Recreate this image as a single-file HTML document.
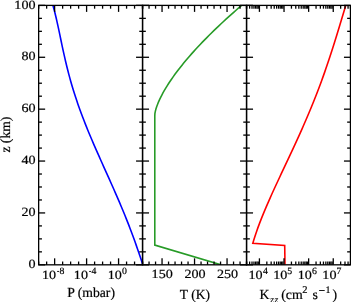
<!DOCTYPE html>
<html><head><meta charset="utf-8"><style>
html,body{margin:0;padding:0;background:#fff;width:351px;height:302px;overflow:hidden}
svg{display:block;will-change:transform}
text{font-family:"Liberation Serif",serif;fill:#000;stroke:#000;stroke-width:0.2px;text-rendering:geometricPrecision}
</style></head><body>
<svg width="351" height="302" viewBox="0 0 351 302">
<defs><clipPath id="c1"><rect x="38.65" y="5.39" width="103.9" height="259.43"/></clipPath><clipPath id="c2"><rect x="142.55" y="5.39" width="104.0" height="259.43"/></clipPath><clipPath id="c3"><rect x="246.55" y="5.39" width="103.89999999999998" height="259.43"/></clipPath></defs>
<rect width="351" height="302" fill="#fff"/>
<path clip-path="url(#c1)" d="M52.94,5.39 L53.84,8.67 L54.70,11.96 L55.51,15.24 L56.29,18.53 L57.04,21.81 L57.77,25.09 L58.48,28.38 L59.17,31.66 L59.86,34.95 L60.55,38.23 L61.23,41.51 L61.92,44.80 L62.62,48.08 L63.33,51.36 L64.06,54.65 L64.80,57.93 L65.56,61.22 L66.34,64.50 L67.14,67.78 L67.97,71.07 L68.83,74.35 L69.72,77.64 L70.63,80.92 L71.57,84.20 L72.54,87.49 L73.54,90.77 L74.58,94.06 L75.64,97.34 L76.73,100.62 L77.85,103.91 L79.01,107.19 L80.19,110.48 L81.40,113.76 L82.63,117.04 L83.90,120.33 L85.18,123.61 L86.49,126.90 L87.83,130.18 L89.18,133.46 L90.56,136.75 L91.95,140.03 L93.36,143.31 L94.78,146.60 L96.21,149.88 L97.66,153.17 L99.12,156.45 L100.58,159.73 L102.05,163.02 L103.53,166.30 L105.00,169.59 L106.48,172.87 L107.96,176.15 L109.43,179.44 L110.90,182.72 L112.36,186.01 L113.81,189.29 L115.26,192.57 L116.69,195.86 L118.11,199.14 L119.52,202.43 L120.91,205.71 L122.29,208.99 L123.65,212.28 L124.99,215.56 L126.31,218.85 L127.62,222.13 L128.90,225.41 L130.16,228.70 L131.41,231.98 L132.63,235.26 L133.84,238.55 L135.02,241.83 L136.19,245.12 L137.34,248.40 L138.47,251.68 L139.59,254.97 L140.69,258.25 L141.78,261.54 L142.85,264.82" fill="none" stroke="#0000ff" stroke-width="1.6"/>
<path clip-path="url(#c2)" d="M241.59,5.39 L238.93,7.69 L236.29,9.99 L233.68,12.28 L231.10,14.58 L228.55,16.88 L226.02,19.18 L223.52,21.48 L221.06,23.78 L218.62,26.07 L216.20,28.37 L213.82,30.67 L211.47,32.97 L209.15,35.27 L206.86,37.56 L204.61,39.86 L202.38,42.16 L200.19,44.46 L198.03,46.76 L195.90,49.06 L193.81,51.35 L191.75,53.65 L189.73,55.95 L187.75,58.25 L185.80,60.55 L183.89,62.84 L182.02,65.14 L180.19,67.44 L178.40,69.74 L176.66,72.04 L174.95,74.33 L173.30,76.63 L171.68,78.93 L170.12,81.23 L168.60,83.53 L167.14,85.83 L165.73,88.12 L164.37,90.42 L163.07,92.72 L161.84,95.02 L160.67,97.32 L159.57,99.61 L158.54,101.91 L157.60,104.21 L156.75,106.51 L156.00,108.81 L155.38,111.11 L154.93,113.40 L154.79,115.70 L154.79,118.00 L154.79,245.07 L221.00,264.82" fill="none" stroke="#279b27" stroke-width="1.6" stroke-linejoin="miter"/>
<path clip-path="url(#c3)" d="M345.76,5.39 L344.84,8.40 L343.93,11.41 L343.03,14.42 L342.12,17.43 L341.22,20.44 L340.31,23.45 L339.41,26.46 L338.49,29.47 L337.58,32.48 L336.66,35.49 L335.73,38.50 L334.79,41.51 L333.85,44.52 L332.90,47.53 L331.93,50.54 L330.96,53.55 L329.98,56.56 L328.98,59.57 L327.97,62.58 L326.95,65.60 L325.91,68.61 L324.86,71.62 L323.80,74.63 L322.72,77.64 L321.62,80.65 L320.52,83.66 L319.39,86.67 L318.25,89.68 L317.10,92.69 L315.93,95.70 L314.74,98.71 L313.54,101.72 L312.32,104.73 L311.09,107.74 L309.84,110.75 L308.58,113.76 L307.30,116.77 L306.02,119.78 L304.71,122.79 L303.40,125.80 L302.07,128.81 L300.73,131.82 L299.38,134.83 L298.01,137.84 L296.64,140.85 L295.26,143.86 L293.87,146.87 L292.48,149.88 L291.07,152.89 L289.67,155.90 L288.26,158.91 L286.84,161.92 L285.42,164.93 L284.01,167.94 L282.59,170.95 L281.17,173.96 L279.76,176.97 L278.35,179.98 L276.95,182.99 L275.55,186.01 L274.17,189.02 L272.79,192.03 L271.43,195.04 L270.08,198.05 L268.75,201.06 L267.43,204.07 L266.13,207.08 L264.86,210.09 L263.61,213.10 L262.38,216.11 L261.18,219.12 L260.01,222.13 L258.87,225.14 L257.76,228.15 L256.69,231.16 L255.66,234.17 L254.67,237.18 L253.72,240.19 L252.82,243.20 L284.70,245.50 L285.00,264.82" fill="none" stroke="#ff0000" stroke-width="1.6" stroke-linejoin="miter"/>
<line x1="54.63" y1="264.82" x2="54.63" y2="258.32" stroke="#000" stroke-width="1.3"/>
<line x1="54.63" y1="5.39" x2="54.63" y2="11.89" stroke="#000" stroke-width="1.3"/>
<line x1="86.60" y1="264.82" x2="86.60" y2="258.32" stroke="#000" stroke-width="1.3"/>
<line x1="86.60" y1="5.39" x2="86.60" y2="11.89" stroke="#000" stroke-width="1.3"/>
<line x1="118.57" y1="264.82" x2="118.57" y2="258.32" stroke="#000" stroke-width="1.3"/>
<line x1="118.57" y1="5.39" x2="118.57" y2="11.89" stroke="#000" stroke-width="1.3"/>
<line x1="38.65" y1="264.82" x2="38.65" y2="261.52" stroke="#000" stroke-width="1.3"/>
<line x1="38.65" y1="5.39" x2="38.65" y2="8.69" stroke="#000" stroke-width="1.3"/>
<line x1="46.64" y1="264.82" x2="46.64" y2="261.52" stroke="#000" stroke-width="1.3"/>
<line x1="46.64" y1="5.39" x2="46.64" y2="8.69" stroke="#000" stroke-width="1.3"/>
<line x1="62.63" y1="264.82" x2="62.63" y2="261.52" stroke="#000" stroke-width="1.3"/>
<line x1="62.63" y1="5.39" x2="62.63" y2="8.69" stroke="#000" stroke-width="1.3"/>
<line x1="70.62" y1="264.82" x2="70.62" y2="261.52" stroke="#000" stroke-width="1.3"/>
<line x1="70.62" y1="5.39" x2="70.62" y2="8.69" stroke="#000" stroke-width="1.3"/>
<line x1="78.61" y1="264.82" x2="78.61" y2="261.52" stroke="#000" stroke-width="1.3"/>
<line x1="78.61" y1="5.39" x2="78.61" y2="8.69" stroke="#000" stroke-width="1.3"/>
<line x1="94.60" y1="264.82" x2="94.60" y2="261.52" stroke="#000" stroke-width="1.3"/>
<line x1="94.60" y1="5.39" x2="94.60" y2="8.69" stroke="#000" stroke-width="1.3"/>
<line x1="102.59" y1="264.82" x2="102.59" y2="261.52" stroke="#000" stroke-width="1.3"/>
<line x1="102.59" y1="5.39" x2="102.59" y2="8.69" stroke="#000" stroke-width="1.3"/>
<line x1="110.58" y1="264.82" x2="110.58" y2="261.52" stroke="#000" stroke-width="1.3"/>
<line x1="110.58" y1="5.39" x2="110.58" y2="8.69" stroke="#000" stroke-width="1.3"/>
<line x1="126.57" y1="264.82" x2="126.57" y2="261.52" stroke="#000" stroke-width="1.3"/>
<line x1="126.57" y1="5.39" x2="126.57" y2="8.69" stroke="#000" stroke-width="1.3"/>
<line x1="134.56" y1="264.82" x2="134.56" y2="261.52" stroke="#000" stroke-width="1.3"/>
<line x1="134.56" y1="5.39" x2="134.56" y2="8.69" stroke="#000" stroke-width="1.3"/>
<line x1="142.55" y1="264.82" x2="142.55" y2="261.52" stroke="#000" stroke-width="1.3"/>
<line x1="142.55" y1="5.39" x2="142.55" y2="8.69" stroke="#000" stroke-width="1.3"/>
<line x1="162.05" y1="264.82" x2="162.05" y2="258.32" stroke="#000" stroke-width="1.3"/>
<line x1="162.05" y1="5.39" x2="162.05" y2="11.89" stroke="#000" stroke-width="1.3"/>
<line x1="194.55" y1="264.82" x2="194.55" y2="258.32" stroke="#000" stroke-width="1.3"/>
<line x1="194.55" y1="5.39" x2="194.55" y2="11.89" stroke="#000" stroke-width="1.3"/>
<line x1="227.05" y1="264.82" x2="227.05" y2="258.32" stroke="#000" stroke-width="1.3"/>
<line x1="227.05" y1="5.39" x2="227.05" y2="11.89" stroke="#000" stroke-width="1.3"/>
<line x1="142.55" y1="264.82" x2="142.55" y2="261.52" stroke="#000" stroke-width="1.3"/>
<line x1="142.55" y1="5.39" x2="142.55" y2="8.69" stroke="#000" stroke-width="1.3"/>
<line x1="149.05" y1="264.82" x2="149.05" y2="261.52" stroke="#000" stroke-width="1.3"/>
<line x1="149.05" y1="5.39" x2="149.05" y2="8.69" stroke="#000" stroke-width="1.3"/>
<line x1="155.55" y1="264.82" x2="155.55" y2="261.52" stroke="#000" stroke-width="1.3"/>
<line x1="155.55" y1="5.39" x2="155.55" y2="8.69" stroke="#000" stroke-width="1.3"/>
<line x1="168.55" y1="264.82" x2="168.55" y2="261.52" stroke="#000" stroke-width="1.3"/>
<line x1="168.55" y1="5.39" x2="168.55" y2="8.69" stroke="#000" stroke-width="1.3"/>
<line x1="175.05" y1="264.82" x2="175.05" y2="261.52" stroke="#000" stroke-width="1.3"/>
<line x1="175.05" y1="5.39" x2="175.05" y2="8.69" stroke="#000" stroke-width="1.3"/>
<line x1="181.55" y1="264.82" x2="181.55" y2="261.52" stroke="#000" stroke-width="1.3"/>
<line x1="181.55" y1="5.39" x2="181.55" y2="8.69" stroke="#000" stroke-width="1.3"/>
<line x1="188.05" y1="264.82" x2="188.05" y2="261.52" stroke="#000" stroke-width="1.3"/>
<line x1="188.05" y1="5.39" x2="188.05" y2="8.69" stroke="#000" stroke-width="1.3"/>
<line x1="201.05" y1="264.82" x2="201.05" y2="261.52" stroke="#000" stroke-width="1.3"/>
<line x1="201.05" y1="5.39" x2="201.05" y2="8.69" stroke="#000" stroke-width="1.3"/>
<line x1="207.55" y1="264.82" x2="207.55" y2="261.52" stroke="#000" stroke-width="1.3"/>
<line x1="207.55" y1="5.39" x2="207.55" y2="8.69" stroke="#000" stroke-width="1.3"/>
<line x1="214.05" y1="264.82" x2="214.05" y2="261.52" stroke="#000" stroke-width="1.3"/>
<line x1="214.05" y1="5.39" x2="214.05" y2="8.69" stroke="#000" stroke-width="1.3"/>
<line x1="220.55" y1="264.82" x2="220.55" y2="261.52" stroke="#000" stroke-width="1.3"/>
<line x1="220.55" y1="5.39" x2="220.55" y2="8.69" stroke="#000" stroke-width="1.3"/>
<line x1="233.55" y1="264.82" x2="233.55" y2="261.52" stroke="#000" stroke-width="1.3"/>
<line x1="233.55" y1="5.39" x2="233.55" y2="8.69" stroke="#000" stroke-width="1.3"/>
<line x1="240.05" y1="264.82" x2="240.05" y2="261.52" stroke="#000" stroke-width="1.3"/>
<line x1="240.05" y1="5.39" x2="240.05" y2="8.69" stroke="#000" stroke-width="1.3"/>
<line x1="246.55" y1="264.82" x2="246.55" y2="261.52" stroke="#000" stroke-width="1.3"/>
<line x1="246.55" y1="5.39" x2="246.55" y2="8.69" stroke="#000" stroke-width="1.3"/>
<line x1="259.42" y1="264.82" x2="259.42" y2="258.32" stroke="#000" stroke-width="1.3"/>
<line x1="259.42" y1="5.39" x2="259.42" y2="11.89" stroke="#000" stroke-width="1.3"/>
<line x1="284.03" y1="264.82" x2="284.03" y2="258.32" stroke="#000" stroke-width="1.3"/>
<line x1="284.03" y1="5.39" x2="284.03" y2="11.89" stroke="#000" stroke-width="1.3"/>
<line x1="308.64" y1="264.82" x2="308.64" y2="258.32" stroke="#000" stroke-width="1.3"/>
<line x1="308.64" y1="5.39" x2="308.64" y2="11.89" stroke="#000" stroke-width="1.3"/>
<line x1="333.25" y1="264.82" x2="333.25" y2="258.32" stroke="#000" stroke-width="1.3"/>
<line x1="333.25" y1="5.39" x2="333.25" y2="11.89" stroke="#000" stroke-width="1.3"/>
<line x1="246.55" y1="264.82" x2="246.55" y2="261.52" stroke="#000" stroke-width="1.3"/>
<line x1="246.55" y1="5.39" x2="246.55" y2="8.69" stroke="#000" stroke-width="1.3"/>
<line x1="249.62" y1="264.82" x2="249.62" y2="261.52" stroke="#000" stroke-width="1.3"/>
<line x1="249.62" y1="5.39" x2="249.62" y2="8.69" stroke="#000" stroke-width="1.3"/>
<line x1="252.01" y1="264.82" x2="252.01" y2="261.52" stroke="#000" stroke-width="1.3"/>
<line x1="252.01" y1="5.39" x2="252.01" y2="8.69" stroke="#000" stroke-width="1.3"/>
<line x1="253.96" y1="264.82" x2="253.96" y2="261.52" stroke="#000" stroke-width="1.3"/>
<line x1="253.96" y1="5.39" x2="253.96" y2="8.69" stroke="#000" stroke-width="1.3"/>
<line x1="255.61" y1="264.82" x2="255.61" y2="261.52" stroke="#000" stroke-width="1.3"/>
<line x1="255.61" y1="5.39" x2="255.61" y2="8.69" stroke="#000" stroke-width="1.3"/>
<line x1="257.03" y1="264.82" x2="257.03" y2="261.52" stroke="#000" stroke-width="1.3"/>
<line x1="257.03" y1="5.39" x2="257.03" y2="8.69" stroke="#000" stroke-width="1.3"/>
<line x1="258.29" y1="264.82" x2="258.29" y2="261.52" stroke="#000" stroke-width="1.3"/>
<line x1="258.29" y1="5.39" x2="258.29" y2="8.69" stroke="#000" stroke-width="1.3"/>
<line x1="266.83" y1="264.82" x2="266.83" y2="261.52" stroke="#000" stroke-width="1.3"/>
<line x1="266.83" y1="5.39" x2="266.83" y2="8.69" stroke="#000" stroke-width="1.3"/>
<line x1="271.16" y1="264.82" x2="271.16" y2="261.52" stroke="#000" stroke-width="1.3"/>
<line x1="271.16" y1="5.39" x2="271.16" y2="8.69" stroke="#000" stroke-width="1.3"/>
<line x1="274.23" y1="264.82" x2="274.23" y2="261.52" stroke="#000" stroke-width="1.3"/>
<line x1="274.23" y1="5.39" x2="274.23" y2="8.69" stroke="#000" stroke-width="1.3"/>
<line x1="276.62" y1="264.82" x2="276.62" y2="261.52" stroke="#000" stroke-width="1.3"/>
<line x1="276.62" y1="5.39" x2="276.62" y2="8.69" stroke="#000" stroke-width="1.3"/>
<line x1="278.57" y1="264.82" x2="278.57" y2="261.52" stroke="#000" stroke-width="1.3"/>
<line x1="278.57" y1="5.39" x2="278.57" y2="8.69" stroke="#000" stroke-width="1.3"/>
<line x1="280.22" y1="264.82" x2="280.22" y2="261.52" stroke="#000" stroke-width="1.3"/>
<line x1="280.22" y1="5.39" x2="280.22" y2="8.69" stroke="#000" stroke-width="1.3"/>
<line x1="281.64" y1="264.82" x2="281.64" y2="261.52" stroke="#000" stroke-width="1.3"/>
<line x1="281.64" y1="5.39" x2="281.64" y2="8.69" stroke="#000" stroke-width="1.3"/>
<line x1="282.90" y1="264.82" x2="282.90" y2="261.52" stroke="#000" stroke-width="1.3"/>
<line x1="282.90" y1="5.39" x2="282.90" y2="8.69" stroke="#000" stroke-width="1.3"/>
<line x1="291.44" y1="264.82" x2="291.44" y2="261.52" stroke="#000" stroke-width="1.3"/>
<line x1="291.44" y1="5.39" x2="291.44" y2="8.69" stroke="#000" stroke-width="1.3"/>
<line x1="295.77" y1="264.82" x2="295.77" y2="261.52" stroke="#000" stroke-width="1.3"/>
<line x1="295.77" y1="5.39" x2="295.77" y2="8.69" stroke="#000" stroke-width="1.3"/>
<line x1="298.84" y1="264.82" x2="298.84" y2="261.52" stroke="#000" stroke-width="1.3"/>
<line x1="298.84" y1="5.39" x2="298.84" y2="8.69" stroke="#000" stroke-width="1.3"/>
<line x1="301.23" y1="264.82" x2="301.23" y2="261.52" stroke="#000" stroke-width="1.3"/>
<line x1="301.23" y1="5.39" x2="301.23" y2="8.69" stroke="#000" stroke-width="1.3"/>
<line x1="303.18" y1="264.82" x2="303.18" y2="261.52" stroke="#000" stroke-width="1.3"/>
<line x1="303.18" y1="5.39" x2="303.18" y2="8.69" stroke="#000" stroke-width="1.3"/>
<line x1="304.83" y1="264.82" x2="304.83" y2="261.52" stroke="#000" stroke-width="1.3"/>
<line x1="304.83" y1="5.39" x2="304.83" y2="8.69" stroke="#000" stroke-width="1.3"/>
<line x1="306.25" y1="264.82" x2="306.25" y2="261.52" stroke="#000" stroke-width="1.3"/>
<line x1="306.25" y1="5.39" x2="306.25" y2="8.69" stroke="#000" stroke-width="1.3"/>
<line x1="307.51" y1="264.82" x2="307.51" y2="261.52" stroke="#000" stroke-width="1.3"/>
<line x1="307.51" y1="5.39" x2="307.51" y2="8.69" stroke="#000" stroke-width="1.3"/>
<line x1="316.05" y1="264.82" x2="316.05" y2="261.52" stroke="#000" stroke-width="1.3"/>
<line x1="316.05" y1="5.39" x2="316.05" y2="8.69" stroke="#000" stroke-width="1.3"/>
<line x1="320.38" y1="264.82" x2="320.38" y2="261.52" stroke="#000" stroke-width="1.3"/>
<line x1="320.38" y1="5.39" x2="320.38" y2="8.69" stroke="#000" stroke-width="1.3"/>
<line x1="323.45" y1="264.82" x2="323.45" y2="261.52" stroke="#000" stroke-width="1.3"/>
<line x1="323.45" y1="5.39" x2="323.45" y2="8.69" stroke="#000" stroke-width="1.3"/>
<line x1="325.84" y1="264.82" x2="325.84" y2="261.52" stroke="#000" stroke-width="1.3"/>
<line x1="325.84" y1="5.39" x2="325.84" y2="8.69" stroke="#000" stroke-width="1.3"/>
<line x1="327.79" y1="264.82" x2="327.79" y2="261.52" stroke="#000" stroke-width="1.3"/>
<line x1="327.79" y1="5.39" x2="327.79" y2="8.69" stroke="#000" stroke-width="1.3"/>
<line x1="329.44" y1="264.82" x2="329.44" y2="261.52" stroke="#000" stroke-width="1.3"/>
<line x1="329.44" y1="5.39" x2="329.44" y2="8.69" stroke="#000" stroke-width="1.3"/>
<line x1="330.86" y1="264.82" x2="330.86" y2="261.52" stroke="#000" stroke-width="1.3"/>
<line x1="330.86" y1="5.39" x2="330.86" y2="8.69" stroke="#000" stroke-width="1.3"/>
<line x1="332.12" y1="264.82" x2="332.12" y2="261.52" stroke="#000" stroke-width="1.3"/>
<line x1="332.12" y1="5.39" x2="332.12" y2="8.69" stroke="#000" stroke-width="1.3"/>
<line x1="340.66" y1="264.82" x2="340.66" y2="261.52" stroke="#000" stroke-width="1.3"/>
<line x1="340.66" y1="5.39" x2="340.66" y2="8.69" stroke="#000" stroke-width="1.3"/>
<line x1="344.99" y1="264.82" x2="344.99" y2="261.52" stroke="#000" stroke-width="1.3"/>
<line x1="344.99" y1="5.39" x2="344.99" y2="8.69" stroke="#000" stroke-width="1.3"/>
<line x1="348.07" y1="264.82" x2="348.07" y2="261.52" stroke="#000" stroke-width="1.3"/>
<line x1="348.07" y1="5.39" x2="348.07" y2="8.69" stroke="#000" stroke-width="1.3"/>
<line x1="350.45" y1="264.82" x2="350.45" y2="261.52" stroke="#000" stroke-width="1.3"/>
<line x1="350.45" y1="5.39" x2="350.45" y2="8.69" stroke="#000" stroke-width="1.3"/>
<line x1="38.65" y1="264.82" x2="45.15" y2="264.82" stroke="#000" stroke-width="1.3"/>
<line x1="142.55" y1="264.82" x2="136.05" y2="264.82" stroke="#000" stroke-width="1.3"/>
<line x1="38.65" y1="251.85" x2="41.95" y2="251.85" stroke="#000" stroke-width="1.3"/>
<line x1="142.55" y1="251.85" x2="139.25" y2="251.85" stroke="#000" stroke-width="1.3"/>
<line x1="38.65" y1="238.88" x2="41.95" y2="238.88" stroke="#000" stroke-width="1.3"/>
<line x1="142.55" y1="238.88" x2="139.25" y2="238.88" stroke="#000" stroke-width="1.3"/>
<line x1="38.65" y1="225.91" x2="41.95" y2="225.91" stroke="#000" stroke-width="1.3"/>
<line x1="142.55" y1="225.91" x2="139.25" y2="225.91" stroke="#000" stroke-width="1.3"/>
<line x1="38.65" y1="212.93" x2="45.15" y2="212.93" stroke="#000" stroke-width="1.3"/>
<line x1="142.55" y1="212.93" x2="136.05" y2="212.93" stroke="#000" stroke-width="1.3"/>
<line x1="38.65" y1="199.96" x2="41.95" y2="199.96" stroke="#000" stroke-width="1.3"/>
<line x1="142.55" y1="199.96" x2="139.25" y2="199.96" stroke="#000" stroke-width="1.3"/>
<line x1="38.65" y1="186.99" x2="41.95" y2="186.99" stroke="#000" stroke-width="1.3"/>
<line x1="142.55" y1="186.99" x2="139.25" y2="186.99" stroke="#000" stroke-width="1.3"/>
<line x1="38.65" y1="174.02" x2="41.95" y2="174.02" stroke="#000" stroke-width="1.3"/>
<line x1="142.55" y1="174.02" x2="139.25" y2="174.02" stroke="#000" stroke-width="1.3"/>
<line x1="38.65" y1="161.05" x2="45.15" y2="161.05" stroke="#000" stroke-width="1.3"/>
<line x1="142.55" y1="161.05" x2="136.05" y2="161.05" stroke="#000" stroke-width="1.3"/>
<line x1="38.65" y1="148.08" x2="41.95" y2="148.08" stroke="#000" stroke-width="1.3"/>
<line x1="142.55" y1="148.08" x2="139.25" y2="148.08" stroke="#000" stroke-width="1.3"/>
<line x1="38.65" y1="135.10" x2="41.95" y2="135.10" stroke="#000" stroke-width="1.3"/>
<line x1="142.55" y1="135.10" x2="139.25" y2="135.10" stroke="#000" stroke-width="1.3"/>
<line x1="38.65" y1="122.13" x2="41.95" y2="122.13" stroke="#000" stroke-width="1.3"/>
<line x1="142.55" y1="122.13" x2="139.25" y2="122.13" stroke="#000" stroke-width="1.3"/>
<line x1="38.65" y1="109.16" x2="45.15" y2="109.16" stroke="#000" stroke-width="1.3"/>
<line x1="142.55" y1="109.16" x2="136.05" y2="109.16" stroke="#000" stroke-width="1.3"/>
<line x1="38.65" y1="96.19" x2="41.95" y2="96.19" stroke="#000" stroke-width="1.3"/>
<line x1="142.55" y1="96.19" x2="139.25" y2="96.19" stroke="#000" stroke-width="1.3"/>
<line x1="38.65" y1="83.22" x2="41.95" y2="83.22" stroke="#000" stroke-width="1.3"/>
<line x1="142.55" y1="83.22" x2="139.25" y2="83.22" stroke="#000" stroke-width="1.3"/>
<line x1="38.65" y1="70.25" x2="41.95" y2="70.25" stroke="#000" stroke-width="1.3"/>
<line x1="142.55" y1="70.25" x2="139.25" y2="70.25" stroke="#000" stroke-width="1.3"/>
<line x1="38.65" y1="57.28" x2="45.15" y2="57.28" stroke="#000" stroke-width="1.3"/>
<line x1="142.55" y1="57.28" x2="136.05" y2="57.28" stroke="#000" stroke-width="1.3"/>
<line x1="38.65" y1="44.30" x2="41.95" y2="44.30" stroke="#000" stroke-width="1.3"/>
<line x1="142.55" y1="44.30" x2="139.25" y2="44.30" stroke="#000" stroke-width="1.3"/>
<line x1="38.65" y1="31.33" x2="41.95" y2="31.33" stroke="#000" stroke-width="1.3"/>
<line x1="142.55" y1="31.33" x2="139.25" y2="31.33" stroke="#000" stroke-width="1.3"/>
<line x1="38.65" y1="18.36" x2="41.95" y2="18.36" stroke="#000" stroke-width="1.3"/>
<line x1="142.55" y1="18.36" x2="139.25" y2="18.36" stroke="#000" stroke-width="1.3"/>
<line x1="38.65" y1="5.39" x2="45.15" y2="5.39" stroke="#000" stroke-width="1.3"/>
<line x1="142.55" y1="5.39" x2="136.05" y2="5.39" stroke="#000" stroke-width="1.3"/>
<line x1="142.55" y1="264.82" x2="149.05" y2="264.82" stroke="#000" stroke-width="1.3"/>
<line x1="246.55" y1="264.82" x2="240.05" y2="264.82" stroke="#000" stroke-width="1.3"/>
<line x1="142.55" y1="251.85" x2="145.85" y2="251.85" stroke="#000" stroke-width="1.3"/>
<line x1="246.55" y1="251.85" x2="243.25" y2="251.85" stroke="#000" stroke-width="1.3"/>
<line x1="142.55" y1="238.88" x2="145.85" y2="238.88" stroke="#000" stroke-width="1.3"/>
<line x1="246.55" y1="238.88" x2="243.25" y2="238.88" stroke="#000" stroke-width="1.3"/>
<line x1="142.55" y1="225.91" x2="145.85" y2="225.91" stroke="#000" stroke-width="1.3"/>
<line x1="246.55" y1="225.91" x2="243.25" y2="225.91" stroke="#000" stroke-width="1.3"/>
<line x1="142.55" y1="212.93" x2="149.05" y2="212.93" stroke="#000" stroke-width="1.3"/>
<line x1="246.55" y1="212.93" x2="240.05" y2="212.93" stroke="#000" stroke-width="1.3"/>
<line x1="142.55" y1="199.96" x2="145.85" y2="199.96" stroke="#000" stroke-width="1.3"/>
<line x1="246.55" y1="199.96" x2="243.25" y2="199.96" stroke="#000" stroke-width="1.3"/>
<line x1="142.55" y1="186.99" x2="145.85" y2="186.99" stroke="#000" stroke-width="1.3"/>
<line x1="246.55" y1="186.99" x2="243.25" y2="186.99" stroke="#000" stroke-width="1.3"/>
<line x1="142.55" y1="174.02" x2="145.85" y2="174.02" stroke="#000" stroke-width="1.3"/>
<line x1="246.55" y1="174.02" x2="243.25" y2="174.02" stroke="#000" stroke-width="1.3"/>
<line x1="142.55" y1="161.05" x2="149.05" y2="161.05" stroke="#000" stroke-width="1.3"/>
<line x1="246.55" y1="161.05" x2="240.05" y2="161.05" stroke="#000" stroke-width="1.3"/>
<line x1="142.55" y1="148.08" x2="145.85" y2="148.08" stroke="#000" stroke-width="1.3"/>
<line x1="246.55" y1="148.08" x2="243.25" y2="148.08" stroke="#000" stroke-width="1.3"/>
<line x1="142.55" y1="135.10" x2="145.85" y2="135.10" stroke="#000" stroke-width="1.3"/>
<line x1="246.55" y1="135.10" x2="243.25" y2="135.10" stroke="#000" stroke-width="1.3"/>
<line x1="142.55" y1="122.13" x2="145.85" y2="122.13" stroke="#000" stroke-width="1.3"/>
<line x1="246.55" y1="122.13" x2="243.25" y2="122.13" stroke="#000" stroke-width="1.3"/>
<line x1="142.55" y1="109.16" x2="149.05" y2="109.16" stroke="#000" stroke-width="1.3"/>
<line x1="246.55" y1="109.16" x2="240.05" y2="109.16" stroke="#000" stroke-width="1.3"/>
<line x1="142.55" y1="96.19" x2="145.85" y2="96.19" stroke="#000" stroke-width="1.3"/>
<line x1="246.55" y1="96.19" x2="243.25" y2="96.19" stroke="#000" stroke-width="1.3"/>
<line x1="142.55" y1="83.22" x2="145.85" y2="83.22" stroke="#000" stroke-width="1.3"/>
<line x1="246.55" y1="83.22" x2="243.25" y2="83.22" stroke="#000" stroke-width="1.3"/>
<line x1="142.55" y1="70.25" x2="145.85" y2="70.25" stroke="#000" stroke-width="1.3"/>
<line x1="246.55" y1="70.25" x2="243.25" y2="70.25" stroke="#000" stroke-width="1.3"/>
<line x1="142.55" y1="57.28" x2="149.05" y2="57.28" stroke="#000" stroke-width="1.3"/>
<line x1="246.55" y1="57.28" x2="240.05" y2="57.28" stroke="#000" stroke-width="1.3"/>
<line x1="142.55" y1="44.30" x2="145.85" y2="44.30" stroke="#000" stroke-width="1.3"/>
<line x1="246.55" y1="44.30" x2="243.25" y2="44.30" stroke="#000" stroke-width="1.3"/>
<line x1="142.55" y1="31.33" x2="145.85" y2="31.33" stroke="#000" stroke-width="1.3"/>
<line x1="246.55" y1="31.33" x2="243.25" y2="31.33" stroke="#000" stroke-width="1.3"/>
<line x1="142.55" y1="18.36" x2="145.85" y2="18.36" stroke="#000" stroke-width="1.3"/>
<line x1="246.55" y1="18.36" x2="243.25" y2="18.36" stroke="#000" stroke-width="1.3"/>
<line x1="142.55" y1="5.39" x2="149.05" y2="5.39" stroke="#000" stroke-width="1.3"/>
<line x1="246.55" y1="5.39" x2="240.05" y2="5.39" stroke="#000" stroke-width="1.3"/>
<line x1="246.55" y1="264.82" x2="253.05" y2="264.82" stroke="#000" stroke-width="1.3"/>
<line x1="350.45" y1="264.82" x2="343.95" y2="264.82" stroke="#000" stroke-width="1.3"/>
<line x1="246.55" y1="251.85" x2="249.85" y2="251.85" stroke="#000" stroke-width="1.3"/>
<line x1="350.45" y1="251.85" x2="347.15" y2="251.85" stroke="#000" stroke-width="1.3"/>
<line x1="246.55" y1="238.88" x2="249.85" y2="238.88" stroke="#000" stroke-width="1.3"/>
<line x1="350.45" y1="238.88" x2="347.15" y2="238.88" stroke="#000" stroke-width="1.3"/>
<line x1="246.55" y1="225.91" x2="249.85" y2="225.91" stroke="#000" stroke-width="1.3"/>
<line x1="350.45" y1="225.91" x2="347.15" y2="225.91" stroke="#000" stroke-width="1.3"/>
<line x1="246.55" y1="212.93" x2="253.05" y2="212.93" stroke="#000" stroke-width="1.3"/>
<line x1="350.45" y1="212.93" x2="343.95" y2="212.93" stroke="#000" stroke-width="1.3"/>
<line x1="246.55" y1="199.96" x2="249.85" y2="199.96" stroke="#000" stroke-width="1.3"/>
<line x1="350.45" y1="199.96" x2="347.15" y2="199.96" stroke="#000" stroke-width="1.3"/>
<line x1="246.55" y1="186.99" x2="249.85" y2="186.99" stroke="#000" stroke-width="1.3"/>
<line x1="350.45" y1="186.99" x2="347.15" y2="186.99" stroke="#000" stroke-width="1.3"/>
<line x1="246.55" y1="174.02" x2="249.85" y2="174.02" stroke="#000" stroke-width="1.3"/>
<line x1="350.45" y1="174.02" x2="347.15" y2="174.02" stroke="#000" stroke-width="1.3"/>
<line x1="246.55" y1="161.05" x2="253.05" y2="161.05" stroke="#000" stroke-width="1.3"/>
<line x1="350.45" y1="161.05" x2="343.95" y2="161.05" stroke="#000" stroke-width="1.3"/>
<line x1="246.55" y1="148.08" x2="249.85" y2="148.08" stroke="#000" stroke-width="1.3"/>
<line x1="350.45" y1="148.08" x2="347.15" y2="148.08" stroke="#000" stroke-width="1.3"/>
<line x1="246.55" y1="135.10" x2="249.85" y2="135.10" stroke="#000" stroke-width="1.3"/>
<line x1="350.45" y1="135.10" x2="347.15" y2="135.10" stroke="#000" stroke-width="1.3"/>
<line x1="246.55" y1="122.13" x2="249.85" y2="122.13" stroke="#000" stroke-width="1.3"/>
<line x1="350.45" y1="122.13" x2="347.15" y2="122.13" stroke="#000" stroke-width="1.3"/>
<line x1="246.55" y1="109.16" x2="253.05" y2="109.16" stroke="#000" stroke-width="1.3"/>
<line x1="350.45" y1="109.16" x2="343.95" y2="109.16" stroke="#000" stroke-width="1.3"/>
<line x1="246.55" y1="96.19" x2="249.85" y2="96.19" stroke="#000" stroke-width="1.3"/>
<line x1="350.45" y1="96.19" x2="347.15" y2="96.19" stroke="#000" stroke-width="1.3"/>
<line x1="246.55" y1="83.22" x2="249.85" y2="83.22" stroke="#000" stroke-width="1.3"/>
<line x1="350.45" y1="83.22" x2="347.15" y2="83.22" stroke="#000" stroke-width="1.3"/>
<line x1="246.55" y1="70.25" x2="249.85" y2="70.25" stroke="#000" stroke-width="1.3"/>
<line x1="350.45" y1="70.25" x2="347.15" y2="70.25" stroke="#000" stroke-width="1.3"/>
<line x1="246.55" y1="57.28" x2="253.05" y2="57.28" stroke="#000" stroke-width="1.3"/>
<line x1="350.45" y1="57.28" x2="343.95" y2="57.28" stroke="#000" stroke-width="1.3"/>
<line x1="246.55" y1="44.30" x2="249.85" y2="44.30" stroke="#000" stroke-width="1.3"/>
<line x1="350.45" y1="44.30" x2="347.15" y2="44.30" stroke="#000" stroke-width="1.3"/>
<line x1="246.55" y1="31.33" x2="249.85" y2="31.33" stroke="#000" stroke-width="1.3"/>
<line x1="350.45" y1="31.33" x2="347.15" y2="31.33" stroke="#000" stroke-width="1.3"/>
<line x1="246.55" y1="18.36" x2="249.85" y2="18.36" stroke="#000" stroke-width="1.3"/>
<line x1="350.45" y1="18.36" x2="347.15" y2="18.36" stroke="#000" stroke-width="1.3"/>
<line x1="246.55" y1="5.39" x2="253.05" y2="5.39" stroke="#000" stroke-width="1.3"/>
<line x1="350.45" y1="5.39" x2="343.95" y2="5.39" stroke="#000" stroke-width="1.3"/>
<rect x="38.65" y="5.39" width="103.90" height="259.43" fill="none" stroke="#000" stroke-width="1.3"/>
<rect x="142.55" y="5.39" width="104.00" height="259.43" fill="none" stroke="#000" stroke-width="1.3"/>
<rect x="246.55" y="5.39" width="103.90" height="259.43" fill="none" stroke="#000" stroke-width="1.3"/>
<text transform="translate(28.48,268.02) scale(1.12,1)" font-size="12.6">0</text>
<text transform="translate(21.42,216.13) scale(1.12,1)" font-size="12.6">20</text>
<text transform="translate(21.42,164.25) scale(1.12,1)" font-size="12.6">40</text>
<text transform="translate(21.42,112.36) scale(1.12,1)" font-size="12.6">60</text>
<text transform="translate(21.42,60.48) scale(1.12,1)" font-size="12.6">80</text>
<text transform="translate(14.37,8.59) scale(1.12,1)" font-size="12.6">100</text>
<text transform="translate(151.61,277.60) scale(1.12,1)" font-size="12.6">150</text>
<text transform="translate(184.42,277.60) scale(1.12,1)" font-size="12.6">200</text>
<text transform="translate(216.92,277.60) scale(1.12,1)" font-size="12.6">250</text>
<text transform="translate(41.89,279.20) scale(1.12,1)" font-size="12.6">10</text>
<rect x="57.13" y="270.95" width="2.0" height="0.9" fill="#000"/>
<text transform="translate(59.46,273.80) scale(1.02,1)" font-size="9.6">8</text>
<text transform="translate(73.86,279.20) scale(1.12,1)" font-size="12.6">10</text>
<rect x="89.10" y="270.95" width="2.0" height="0.9" fill="#000"/>
<text transform="translate(91.61,273.80) scale(1.02,1)" font-size="9.6">4</text>
<text transform="translate(107.68,279.20) scale(1.12,1)" font-size="12.6">10</text>
<text transform="translate(122.05,273.80) scale(1.02,1)" font-size="9.6">0</text>
<text transform="translate(248.53,279.20) scale(1.12,1)" font-size="12.6">10</text>
<text transform="translate(263.07,273.80) scale(1.02,1)" font-size="9.6">4</text>
<text transform="translate(273.14,279.20) scale(1.12,1)" font-size="12.6">10</text>
<text transform="translate(287.31,273.80) scale(1.02,1)" font-size="9.6">5</text>
<text transform="translate(297.75,279.20) scale(1.12,1)" font-size="12.6">10</text>
<text transform="translate(312.07,273.80) scale(1.02,1)" font-size="9.6">6</text>
<text transform="translate(322.36,279.20) scale(1.12,1)" font-size="12.6">10</text>
<text transform="translate(336.45,273.80) scale(1.02,1)" font-size="9.6">7</text>
<text transform="translate(67.30,297.40) scale(0.99,1)" font-size="13.8">P (mbar)</text>
<text transform="translate(179.86,298.70) scale(0.975,1)" font-size="13.8">T (K)</text>
<text transform="translate(259.50,298.80) scale(1.0,1)" font-size="13.8">K</text>
<text transform="translate(270.11,303.00) scale(1.0,1)" font-size="10.4" font-style="italic" style="stroke-width:0.1px">zz</text>
<text transform="translate(281.19,298.80) scale(1.0,1)" font-size="13.8">(cm</text>
<text transform="translate(302.14,292.90) scale(1.0,1)" font-size="10.5">2</text>
<text transform="translate(312.53,298.80) scale(1.0,1)" font-size="13.8">s</text>
<rect x="319.1" y="290.0" width="5.6" height="0.9" fill="#000"/>
<text transform="translate(325.52,292.90) scale(1.0,1)" font-size="10.0">1</text>
<text transform="translate(332.56,298.80) scale(1.0,1)" font-size="13.8">)</text>
<text transform="translate(9.6,152.56) rotate(-90) scale(0.985,1)" font-size="13.8">z (km)</text>
</svg>
</body></html>
